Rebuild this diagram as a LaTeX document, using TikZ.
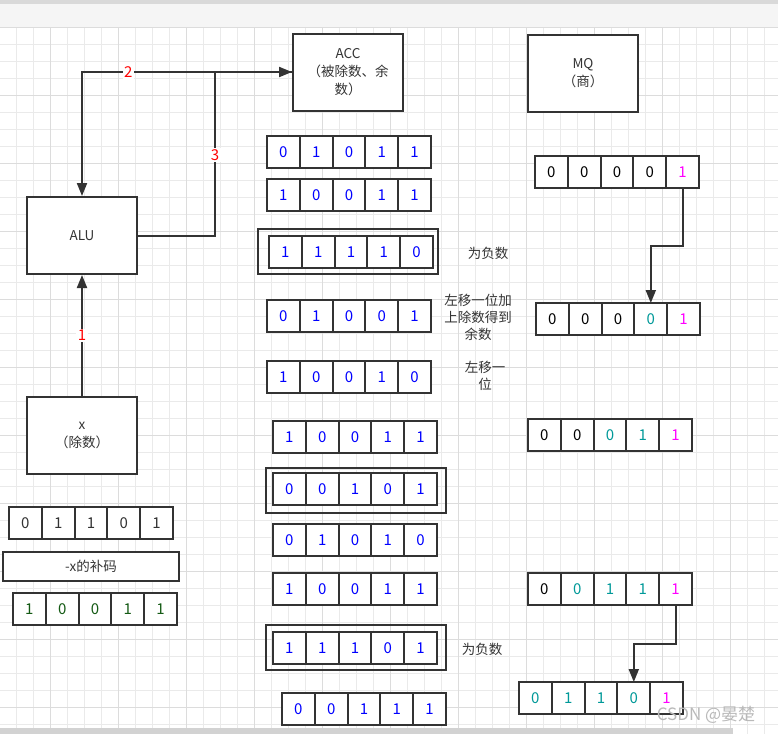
\documentclass[tikz,border=0pt]{standalone}
\usepackage{fontspec}
\setmainfont{Noto Sans CJK SC}
\usetikzlibrary{arrows.meta,calc,positioning}
\definecolor{trazo}{RGB}{51,51,51}
\definecolor{azulbit}{RGB}{0,0,255}
\definecolor{tealbit}{RGB}{0,153,153}
\definecolor{magentabit}{RGB}{255,0,255}
\definecolor{verdebit}{RGB}{20,90,20}
\definecolor{rejilla}{RGB}{234,234,234}
\definecolor{rejillamayor}{RGB}{220,220,220}
\tikzset{
  caja/.style={
    draw=trazo,
    line width=2pt,
    fill=white,
    align=center,
    minimum width=110pt,
    minimum height=77pt,
    inner sep=2pt,
    text=black!80,
    font=\fontsize{13.5}{18}\selectfont
  },
  celda/.style={
    draw=trazo,
    line width=2pt,
    fill=white,
    minimum width=32.8pt,
    minimum height=31.5pt,
    inner sep=0pt,
    outer sep=0pt,
    font=\fontsize{15}{18}\selectfont
  },
  marco/.style={
    draw=trazo,
    line width=2pt,
    inner sep=0pt,
    minimum width=180pt,
    minimum height=45pt
  },
  flecha/.style={
    -{Triangle[length=13pt,width=10pt]},
    line width=2pt,
    draw=trazo
  },
  etiqueta/.style={
    fill=white,
    text=red,
    inner sep=1.5pt,
    font=\fontsize{15}{17}\selectfont
  },
  nota/.style={
    align=center,
    text=black!80,
    font=\fontsize{13.5}{17}\selectfont
  }
}
\newcommand{\registro}[4]{%
  \foreach \v/\c [count=\i] in {#4}
    \node[celda, text=\c] (#1-\i) at ({#2+(\i-0.5)*32.8}, {#3+15.75}) {\v};
}

\begin{document}
\begin{tikzpicture}[x=1pt, y=-1pt]
\useasboundingbox (0,0) rectangle (778,734);
\fill[white] (0,0) rectangle (778,734);
\foreach \gx in {16,33,...,778} \draw[rejilla, line width=.8pt] (\gx,27) -- (\gx,734);
\foreach \gy in {27,44,...,734} \draw[rejilla, line width=.8pt] (0,\gy) -- (778,\gy);
\foreach \gx in {50,118,...,778} \draw[rejillamayor, line width=.8pt] (\gx,27) -- (\gx,734);
\foreach \gy in {27,95,...,734} \draw[rejillamayor, line width=.8pt] (0,\gy) -- (778,\gy);
\fill[gray!8] (0,0) rectangle (778,27);
\fill[gray!30] (0,0) rectangle (778,4);
\fill[gray!35] (0,728) rectangle (733,734);

\node[caja] (acc) at (348,72) {ACC\\（被除数、余\\数）};
\node[caja] (mq) at (583,73.5) {MQ\\（商）};
\node[caja] (alu) at (82,235.5) {ALU};
\node[caja] (x) at (82,435.5) {x\\（除数）};
\coordinate (c3) at (215,0);

\draw[flecha] (acc.west) -| node[etiqueta, pos=.39] (l2) {2} (alu.north);
\draw[flecha] (alu.east) -| node[etiqueta, pos=.746] (l3) {3} (c3 |- acc.west) -- (acc.west);
\draw[flecha] (x.north) -- node[etiqueta] (l1) {1} (alu.south);

\registro{a1}{267}{136}{0/azulbit,1/azulbit,0/azulbit,1/azulbit,1/azulbit}
\registro{a2}{267}{179}{1/azulbit,0/azulbit,0/azulbit,1/azulbit,1/azulbit}
\node[marco] (f3) at (348,251.5) {};
\registro{a3}{269}{236}{1/azulbit,1/azulbit,1/azulbit,1/azulbit,0/azulbit}
\registro{a4}{267}{300}{0/azulbit,1/azulbit,0/azulbit,0/azulbit,1/azulbit}
\registro{a5}{267}{361}{1/azulbit,0/azulbit,0/azulbit,1/azulbit,0/azulbit}
\registro{a6}{273}{421}{1/azulbit,0/azulbit,0/azulbit,1/azulbit,1/azulbit}
\node[marco] (f7) at (356,490.5) {};
\registro{a7}{273}{473}{0/azulbit,0/azulbit,1/azulbit,0/azulbit,1/azulbit}
\registro{a8}{273}{524}{0/azulbit,1/azulbit,0/azulbit,1/azulbit,0/azulbit}
\registro{a9}{273}{573}{1/azulbit,0/azulbit,0/azulbit,1/azulbit,1/azulbit}
\node[marco] (f10) at (356,647) {};
\registro{a10}{273}{632}{1/azulbit,1/azulbit,1/azulbit,0/azulbit,1/azulbit}
\registro{a11}{282}{693}{0/azulbit,0/azulbit,1/azulbit,1/azulbit,1/azulbit}

\node[nota] (n3) at (488,253) {为负数};
\node[nota] (n4) at (478,317) {左移一位加\\上除数得到\\余数};
\node[nota] (n5) at (485,376) {左移一\\位};
\node[nota] (n10) at (482,649) {为负数};

\registro{m1}{535}{156}{0/black,0/black,0/black,0/black,1/magentabit}
\registro{m2}{536}{303}{0/black,0/black,0/black,0/tealbit,1/magentabit}
\registro{m3}{528}{419}{0/black,0/black,0/tealbit,1/tealbit,1/magentabit}
\registro{m4}{528}{573}{0/black,0/tealbit,1/tealbit,1/tealbit,1/magentabit}
\registro{m5}{519}{682}{0/tealbit,1/tealbit,1/tealbit,0/tealbit,1/magentabit}
\coordinate (q1) at (0,246);
\coordinate (q2) at (0,644);
\draw[flecha] (m1-5.south) |- (m2-4.north |- q1) -- (m2-4.north);
\draw[flecha] (m4-5.south) |- (m5-4.north |- q2) -- (m5-4.north);

\registro{x1}{9}{507}{0/trazo,1/trazo,1/trazo,0/trazo,1/trazo}
\node[caja, minimum width=176pt, minimum height=29pt] (cx) at (91,566.5) {-x的补码};
\registro{x2}{13}{593}{1/verdebit,0/verdebit,0/verdebit,1/verdebit,1/verdebit}

\node[text=gray!55, font=\fontsize{17}{17}\selectfont] (marca) at (706,715) {CSDN @晏楚};
\end{tikzpicture}
\end{document}
